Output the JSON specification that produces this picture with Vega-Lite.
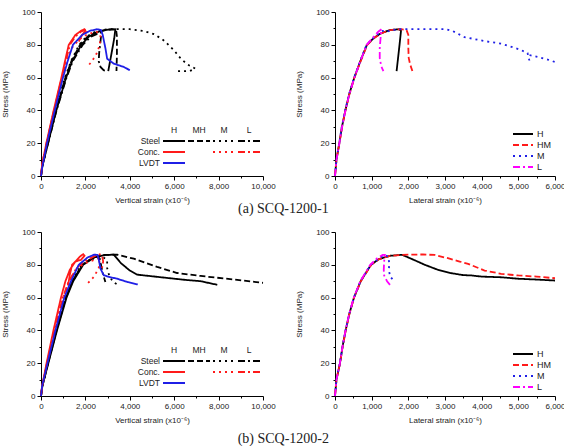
{
  "$schema": "https://vega.github.io/schema/vega-lite/v6.json",
  "padding": {"left": 1, "top": 8, "right": 0, "bottom": 0},
  "autosize": {"type": "pad"},
  "config": {
    "view": {"stroke": null},
    "font": "Liberation Sans",
    "axis": {
      "domainColor": "#000000", "tickColor": "#000000", "domainWidth": 1, "tickWidth": 1,
      "labelColor": "#222222", "titleColor": "#222222",
      "labelFont": "Liberation Sans", "titleFont": "Liberation Sans",
      "labelFontSize": 8, "titleFontSize": 8, "titleFontWeight": "normal",
      "grid": false, "labelPadding": 2, "labelOverlap": false, "labelFlush": false
    },
    "axisX": {"titlePadding": 6},
    "axisY": {"titlePadding": 12},
    "legend": {"labelFont": "Liberation Sans", "labelFontSize": 9, "labelColor": "#222222"},
    "title": {"font": "Liberation Serif", "fontSize": 14, "fontWeight": "normal", "color": "#222222"}
  },
  "datasets": {
    "keys": [
      {"m": "Steel", "l": "H"}, {"m": "Steel", "l": "MH"}, {"m": "Steel", "l": "M"}, {"m": "Steel", "l": "L"},
      {"m": "Conc.", "l": "H"}, {"m": "Conc.", "l": "M"}, {"m": "Conc.", "l": "L"},
      {"m": "LVDT", "l": "H"}
    ],
    "a_vertical": [
      {"m":"Steel","l":"H","x":0,"y":0},{"m":"Steel","l":"H","x":60,"y":6},{"m":"Steel","l":"H","x":315,"y":20},{"m":"Steel","l":"H","x":690,"y":40},{"m":"Steel","l":"H","x":1130,"y":60},{"m":"Steel","l":"H","x":1400,"y":70},{"m":"Steel","l":"H","x":1820,"y":80},{"m":"Steel","l":"H","x":2150,"y":85},{"m":"Steel","l":"H","x":2600,"y":88},{"m":"Steel","l":"H","x":3000,"y":89.2},{"m":"Steel","l":"H","x":3350,"y":89.5},{"m":"Steel","l":"H","x":3300,"y":84},{"m":"Steel","l":"H","x":3180,"y":75},{"m":"Steel","l":"H","x":3030,"y":64},
      {"m":"Steel","l":"MH","x":0,"y":0},{"m":"Steel","l":"MH","x":60,"y":6},{"m":"Steel","l":"MH","x":300,"y":20},{"m":"Steel","l":"MH","x":670,"y":40},{"m":"Steel","l":"MH","x":1100,"y":60},{"m":"Steel","l":"MH","x":1370,"y":70},{"m":"Steel","l":"MH","x":1760,"y":80},{"m":"Steel","l":"MH","x":2100,"y":85},{"m":"Steel","l":"MH","x":2550,"y":88},{"m":"Steel","l":"MH","x":3000,"y":89.3},{"m":"Steel","l":"MH","x":3380,"y":89.5},{"m":"Steel","l":"MH","x":3420,"y":85},{"m":"Steel","l":"MH","x":3420,"y":74},{"m":"Steel","l":"MH","x":3400,"y":64},
      {"m":"Steel","l":"M","x":0,"y":0},{"m":"Steel","l":"M","x":60,"y":6},{"m":"Steel","l":"M","x":290,"y":20},{"m":"Steel","l":"M","x":650,"y":40},{"m":"Steel","l":"M","x":1080,"y":60},{"m":"Steel","l":"M","x":1350,"y":70},{"m":"Steel","l":"M","x":1720,"y":80},{"m":"Steel","l":"M","x":2050,"y":85},{"m":"Steel","l":"M","x":2500,"y":88.5},{"m":"Steel","l":"M","x":3000,"y":89.5},{"m":"Steel","l":"M","x":3500,"y":89.6},{"m":"Steel","l":"M","x":4000,"y":89.5},{"m":"Steel","l":"M","x":4600,"y":88.5},{"m":"Steel","l":"M","x":5100,"y":86.5},{"m":"Steel","l":"M","x":5550,"y":82.5},{"m":"Steel","l":"M","x":6000,"y":76.5},{"m":"Steel","l":"M","x":6300,"y":71.5},{"m":"Steel","l":"M","x":6600,"y":68},{"m":"Steel","l":"M","x":6950,"y":65.5},{"m":"Steel","l":"M","x":6700,"y":64},{"m":"Steel","l":"M","x":6000,"y":64},
      {"m":"Steel","l":"L","x":0,"y":0},{"m":"Steel","l":"L","x":60,"y":6},{"m":"Steel","l":"L","x":320,"y":20},{"m":"Steel","l":"L","x":700,"y":40},{"m":"Steel","l":"L","x":1150,"y":60},{"m":"Steel","l":"L","x":1430,"y":70},{"m":"Steel","l":"L","x":1880,"y":80},{"m":"Steel","l":"L","x":2250,"y":85},{"m":"Steel","l":"L","x":2600,"y":87},{"m":"Steel","l":"L","x":2720,"y":87.5},{"m":"Steel","l":"L","x":2680,"y":82},{"m":"Steel","l":"L","x":2620,"y":75},{"m":"Steel","l":"L","x":2600,"y":70},{"m":"Steel","l":"L","x":2680,"y":66.5},{"m":"Steel","l":"L","x":2820,"y":64.5},{"m":"Steel","l":"L","x":2960,"y":64},
      {"m":"Conc.","l":"H","x":0,"y":0},{"m":"Conc.","l":"H","x":50,"y":7},{"m":"Conc.","l":"H","x":240,"y":20},{"m":"Conc.","l":"H","x":570,"y":40},{"m":"Conc.","l":"H","x":920,"y":60},{"m":"Conc.","l":"H","x":1080,"y":70},{"m":"Conc.","l":"H","x":1250,"y":80},{"m":"Conc.","l":"H","x":1550,"y":86},{"m":"Conc.","l":"H","x":1800,"y":88.5},{"m":"Conc.","l":"H","x":1950,"y":89.5},{"m":"Conc.","l":"H","x":2000,"y":88.5},{"m":"Conc.","l":"H","x":1850,"y":86},{"m":"Conc.","l":"H","x":1700,"y":82},
      {"m":"Conc.","l":"M","x":0,"y":0},{"m":"Conc.","l":"M","x":50,"y":7},{"m":"Conc.","l":"M","x":260,"y":20},{"m":"Conc.","l":"M","x":600,"y":40},{"m":"Conc.","l":"M","x":970,"y":60},{"m":"Conc.","l":"M","x":1170,"y":70},{"m":"Conc.","l":"M","x":1380,"y":78},{"m":"Conc.","l":"M","x":1700,"y":83},{"m":"Conc.","l":"M","x":2100,"y":86.5},{"m":"Conc.","l":"M","x":2500,"y":88},{"m":"Conc.","l":"M","x":2680,"y":86},{"m":"Conc.","l":"M","x":2650,"y":80},{"m":"Conc.","l":"M","x":2500,"y":74.5},{"m":"Conc.","l":"M","x":2300,"y":70},{"m":"Conc.","l":"M","x":2080,"y":66.5},
      {"m":"Conc.","l":"L","x":0,"y":0},{"m":"Conc.","l":"L","x":50,"y":7},{"m":"Conc.","l":"L","x":250,"y":20},{"m":"Conc.","l":"L","x":585,"y":40},{"m":"Conc.","l":"L","x":940,"y":60},{"m":"Conc.","l":"L","x":1120,"y":70},{"m":"Conc.","l":"L","x":1300,"y":80},{"m":"Conc.","l":"L","x":1550,"y":85},{"m":"Conc.","l":"L","x":1800,"y":88},{"m":"Conc.","l":"L","x":2050,"y":89.5},{"m":"Conc.","l":"L","x":2080,"y":88},{"m":"Conc.","l":"L","x":1950,"y":86},
      {"m":"LVDT","l":"H","x":0,"y":0},{"m":"LVDT","l":"H","x":50,"y":5},{"m":"LVDT","l":"H","x":270,"y":20},{"m":"LVDT","l":"H","x":620,"y":40},{"m":"LVDT","l":"H","x":990,"y":60},{"m":"LVDT","l":"H","x":1200,"y":70},{"m":"LVDT","l":"H","x":1440,"y":80},{"m":"LVDT","l":"H","x":1850,"y":86},{"m":"LVDT","l":"H","x":2200,"y":88.5},{"m":"LVDT","l":"H","x":2520,"y":89.5},{"m":"LVDT","l":"H","x":2700,"y":89},{"m":"LVDT","l":"H","x":2780,"y":86},{"m":"LVDT","l":"H","x":2900,"y":78},{"m":"LVDT","l":"H","x":2980,"y":71.5},{"m":"LVDT","l":"H","x":3280,"y":68.5},{"m":"LVDT","l":"H","x":3730,"y":66.5},{"m":"LVDT","l":"H","x":4000,"y":64.5}
    ],
    "b_vertical": [
      {"m":"Steel","l":"H","x":0,"y":0},{"m":"Steel","l":"H","x":60,"y":6},{"m":"Steel","l":"H","x":330,"y":20},{"m":"Steel","l":"H","x":720,"y":40},{"m":"Steel","l":"H","x":1150,"y":60},{"m":"Steel","l":"H","x":1450,"y":70},{"m":"Steel","l":"H","x":1900,"y":80},{"m":"Steel","l":"H","x":2400,"y":84.5},{"m":"Steel","l":"H","x":2900,"y":86},{"m":"Steel","l":"H","x":3280,"y":86.2},{"m":"Steel","l":"H","x":3600,"y":81},{"m":"Steel","l":"H","x":4000,"y":76.5},{"m":"Steel","l":"H","x":4330,"y":74},{"m":"Steel","l":"H","x":5000,"y":73},{"m":"Steel","l":"H","x":5680,"y":72},{"m":"Steel","l":"H","x":6500,"y":70.8},{"m":"Steel","l":"H","x":7190,"y":70},{"m":"Steel","l":"H","x":7940,"y":67.8},
      {"m":"Steel","l":"MH","x":0,"y":0},{"m":"Steel","l":"MH","x":60,"y":6},{"m":"Steel","l":"MH","x":320,"y":20},{"m":"Steel","l":"MH","x":700,"y":40},{"m":"Steel","l":"MH","x":1120,"y":60},{"m":"Steel","l":"MH","x":1420,"y":70},{"m":"Steel","l":"MH","x":1860,"y":80},{"m":"Steel","l":"MH","x":2350,"y":84.5},{"m":"Steel","l":"MH","x":2850,"y":86},{"m":"Steel","l":"MH","x":3430,"y":86.2},{"m":"Steel","l":"MH","x":4180,"y":83.7},{"m":"Steel","l":"MH","x":5230,"y":78.7},{"m":"Steel","l":"MH","x":6130,"y":75},{"m":"Steel","l":"MH","x":7190,"y":73.2},{"m":"Steel","l":"MH","x":8690,"y":71},{"m":"Steel","l":"MH","x":10000,"y":69},
      {"m":"Steel","l":"M","x":0,"y":0},{"m":"Steel","l":"M","x":60,"y":6},{"m":"Steel","l":"M","x":300,"y":20},{"m":"Steel","l":"M","x":680,"y":40},{"m":"Steel","l":"M","x":1100,"y":60},{"m":"Steel","l":"M","x":1400,"y":70},{"m":"Steel","l":"M","x":1820,"y":80},{"m":"Steel","l":"M","x":2300,"y":83.5},{"m":"Steel","l":"M","x":2750,"y":85},{"m":"Steel","l":"M","x":2980,"y":83},{"m":"Steel","l":"M","x":2980,"y":78},{"m":"Steel","l":"M","x":3080,"y":73},{"m":"Steel","l":"M","x":3250,"y":69.5},{"m":"Steel","l":"M","x":3500,"y":67.5},
      {"m":"Steel","l":"L","x":0,"y":0},{"m":"Steel","l":"L","x":60,"y":6},{"m":"Steel","l":"L","x":310,"y":20},{"m":"Steel","l":"L","x":690,"y":40},{"m":"Steel","l":"L","x":1120,"y":60},{"m":"Steel","l":"L","x":1420,"y":70},{"m":"Steel","l":"L","x":1850,"y":80},{"m":"Steel","l":"L","x":2300,"y":84},{"m":"Steel","l":"L","x":2620,"y":85.5},{"m":"Steel","l":"L","x":2700,"y":80},{"m":"Steel","l":"L","x":2800,"y":74},{"m":"Steel","l":"L","x":2900,"y":69.5},
      {"m":"Conc.","l":"H","x":0,"y":0},{"m":"Conc.","l":"H","x":50,"y":6},{"m":"Conc.","l":"H","x":250,"y":20},{"m":"Conc.","l":"H","x":560,"y":40},{"m":"Conc.","l":"H","x":900,"y":60},{"m":"Conc.","l":"H","x":1100,"y":70},{"m":"Conc.","l":"H","x":1300,"y":77},{"m":"Conc.","l":"H","x":1550,"y":82},{"m":"Conc.","l":"H","x":1750,"y":85},{"m":"Conc.","l":"H","x":1900,"y":86.5},{"m":"Conc.","l":"H","x":1960,"y":85.5},{"m":"Conc.","l":"H","x":1800,"y":83},{"m":"Conc.","l":"H","x":1550,"y":82},{"m":"Conc.","l":"H","x":1400,"y":80},{"m":"Conc.","l":"H","x":1300,"y":74},{"m":"Conc.","l":"H","x":1220,"y":67.5},
      {"m":"Conc.","l":"M","x":0,"y":0},{"m":"Conc.","l":"M","x":50,"y":6},{"m":"Conc.","l":"M","x":280,"y":20},{"m":"Conc.","l":"M","x":630,"y":40},{"m":"Conc.","l":"M","x":1000,"y":60},{"m":"Conc.","l":"M","x":1280,"y":70},{"m":"Conc.","l":"M","x":1620,"y":78},{"m":"Conc.","l":"M","x":2000,"y":81},{"m":"Conc.","l":"M","x":2400,"y":83},{"m":"Conc.","l":"M","x":2650,"y":84.5},{"m":"Conc.","l":"M","x":2600,"y":78},{"m":"Conc.","l":"M","x":2400,"y":73},{"m":"Conc.","l":"M","x":2200,"y":70},{"m":"Conc.","l":"M","x":2000,"y":67.5},
      {"m":"Conc.","l":"L","x":0,"y":0},{"m":"Conc.","l":"L","x":50,"y":6},{"m":"Conc.","l":"L","x":270,"y":20},{"m":"Conc.","l":"L","x":610,"y":40},{"m":"Conc.","l":"L","x":980,"y":60},{"m":"Conc.","l":"L","x":1250,"y":70},{"m":"Conc.","l":"L","x":1600,"y":78},{"m":"Conc.","l":"L","x":1950,"y":82},{"m":"Conc.","l":"L","x":2300,"y":84.5},{"m":"Conc.","l":"L","x":2600,"y":86.5},{"m":"Conc.","l":"L","x":2750,"y":86},{"m":"Conc.","l":"L","x":2800,"y":82},{"m":"Conc.","l":"L","x":2750,"y":78},
      {"m":"LVDT","l":"H","x":0,"y":0},{"m":"LVDT","l":"H","x":50,"y":6},{"m":"LVDT","l":"H","x":290,"y":20},{"m":"LVDT","l":"H","x":650,"y":40},{"m":"LVDT","l":"H","x":1050,"y":60},{"m":"LVDT","l":"H","x":1350,"y":70},{"m":"LVDT","l":"H","x":1700,"y":80},{"m":"LVDT","l":"H","x":2100,"y":84.5},{"m":"LVDT","l":"H","x":2400,"y":86.2},{"m":"LVDT","l":"H","x":2550,"y":86},{"m":"LVDT","l":"H","x":2620,"y":82},{"m":"LVDT","l":"H","x":2680,"y":77.6},{"m":"LVDT","l":"H","x":2830,"y":73.6},{"m":"LVDT","l":"H","x":3100,"y":72.5},{"m":"LVDT","l":"H","x":3430,"y":71.5},{"m":"LVDT","l":"H","x":3900,"y":69.5},{"m":"LVDT","l":"H","x":4360,"y":68}
    ],
    "a_lateral": [
      {"s":"H","x":0,"y":0},{"s":"H","x":40,"y":10},{"s":"H","x":118,"y":20},{"s":"H","x":190,"y":30},{"s":"H","x":282,"y":40},{"s":"H","x":390,"y":50},{"s":"H","x":527,"y":60},{"s":"H","x":690,"y":70},{"s":"H","x":870,"y":80},{"s":"H","x":1050,"y":84},{"s":"H","x":1250,"y":87},{"s":"H","x":1500,"y":89},{"s":"H","x":1750,"y":89.5},{"s":"H","x":1800,"y":88.5},{"s":"H","x":1760,"y":80},{"s":"H","x":1720,"y":72},{"s":"H","x":1680,"y":64},
      {"s":"HM","x":0,"y":0},{"s":"HM","x":40,"y":10},{"s":"HM","x":120,"y":20},{"s":"HM","x":195,"y":30},{"s":"HM","x":285,"y":40},{"s":"HM","x":395,"y":50},{"s":"HM","x":530,"y":60},{"s":"HM","x":700,"y":70},{"s":"HM","x":880,"y":80},{"s":"HM","x":1060,"y":84},{"s":"HM","x":1260,"y":87},{"s":"HM","x":1500,"y":89},{"s":"HM","x":1800,"y":89.5},{"s":"HM","x":1950,"y":89},{"s":"HM","x":2000,"y":86},{"s":"HM","x":2000,"y":78},{"s":"HM","x":2010,"y":72},{"s":"HM","x":2050,"y":68},{"s":"HM","x":2110,"y":64},
      {"s":"M","x":0,"y":0},{"s":"M","x":40,"y":10},{"s":"M","x":115,"y":20},{"s":"M","x":185,"y":30},{"s":"M","x":278,"y":40},{"s":"M","x":385,"y":50},{"s":"M","x":520,"y":60},{"s":"M","x":685,"y":70},{"s":"M","x":860,"y":80},{"s":"M","x":1040,"y":84},{"s":"M","x":1200,"y":87},{"s":"M","x":1300,"y":88.5},{"s":"M","x":1400,"y":88},{"s":"M","x":1500,"y":88.6},{"s":"M","x":1700,"y":89.5},{"s":"M","x":2000,"y":89.6},{"s":"M","x":2500,"y":89.6},{"s":"M","x":3000,"y":89.6},{"s":"M","x":3200,"y":88.5},{"s":"M","x":3530,"y":84.7},{"s":"M","x":4070,"y":82.3},{"s":"M","x":4530,"y":80.7},{"s":"M","x":5030,"y":77.2},{"s":"M","x":5250,"y":75},{"s":"M","x":5300,"y":70.5},{"s":"M","x":5330,"y":73.6},{"s":"M","x":5530,"y":72.6},{"s":"M","x":5800,"y":71},{"s":"M","x":6000,"y":69.5},
      {"s":"L","x":0,"y":0},{"s":"L","x":40,"y":10},{"s":"L","x":120,"y":20},{"s":"L","x":192,"y":30},{"s":"L","x":285,"y":40},{"s":"L","x":392,"y":50},{"s":"L","x":528,"y":60},{"s":"L","x":690,"y":70},{"s":"L","x":865,"y":80},{"s":"L","x":1040,"y":84.5},{"s":"L","x":1180,"y":88},{"s":"L","x":1270,"y":89.5},{"s":"L","x":1250,"y":86},{"s":"L","x":1220,"y":78},{"s":"L","x":1220,"y":72},{"s":"L","x":1260,"y":67},{"s":"L","x":1320,"y":64}
    ],
    "b_lateral": [
      {"s":"H","x":0,"y":0},{"s":"H","x":40,"y":10},{"s":"H","x":136,"y":20},{"s":"H","x":205,"y":30},{"s":"H","x":290,"y":40},{"s":"H","x":390,"y":50},{"s":"H","x":517,"y":60},{"s":"H","x":700,"y":70},{"s":"H","x":980,"y":80},{"s":"H","x":1200,"y":83.5},{"s":"H","x":1500,"y":85.5},{"s":"H","x":1830,"y":86.1},{"s":"H","x":2100,"y":83.5},{"s":"H","x":2450,"y":80},{"s":"H","x":2800,"y":77},{"s":"H","x":3170,"y":74.9},{"s":"H","x":3500,"y":73.7},{"s":"H","x":3720,"y":73.5},{"s":"H","x":4000,"y":72.8},{"s":"H","x":4530,"y":72.4},{"s":"H","x":5000,"y":71.5},{"s":"H","x":5500,"y":71},{"s":"H","x":6000,"y":70.4},
      {"s":"HM","x":0,"y":0},{"s":"HM","x":40,"y":10},{"s":"HM","x":138,"y":20},{"s":"HM","x":208,"y":30},{"s":"HM","x":293,"y":40},{"s":"HM","x":393,"y":50},{"s":"HM","x":520,"y":60},{"s":"HM","x":705,"y":70},{"s":"HM","x":990,"y":80},{"s":"HM","x":1210,"y":83.5},{"s":"HM","x":1500,"y":85.5},{"s":"HM","x":1800,"y":86},{"s":"HM","x":2000,"y":86.2},{"s":"HM","x":2400,"y":86.3},{"s":"HM","x":2720,"y":86},{"s":"HM","x":3080,"y":84},{"s":"HM","x":3400,"y":82},{"s":"HM","x":3630,"y":80.6},{"s":"HM","x":4080,"y":76.5},{"s":"HM","x":4530,"y":74.5},{"s":"HM","x":5000,"y":73.5},{"s":"HM","x":5500,"y":72.8},{"s":"HM","x":6000,"y":71.8},
      {"s":"M","x":0,"y":0},{"s":"M","x":40,"y":10},{"s":"M","x":134,"y":20},{"s":"M","x":203,"y":30},{"s":"M","x":288,"y":40},{"s":"M","x":388,"y":50},{"s":"M","x":515,"y":60},{"s":"M","x":695,"y":70},{"s":"M","x":975,"y":80},{"s":"M","x":1200,"y":84},{"s":"M","x":1350,"y":86},{"s":"M","x":1450,"y":85},{"s":"M","x":1480,"y":81},{"s":"M","x":1470,"y":77},{"s":"M","x":1500,"y":73},{"s":"M","x":1630,"y":69.5},
      {"s":"L","x":0,"y":0},{"s":"L","x":40,"y":10},{"s":"L","x":134,"y":20},{"s":"L","x":203,"y":30},{"s":"L","x":287,"y":40},{"s":"L","x":386,"y":50},{"s":"L","x":512,"y":60},{"s":"L","x":690,"y":70},{"s":"L","x":960,"y":80},{"s":"L","x":1150,"y":84},{"s":"L","x":1300,"y":86},{"s":"L","x":1360,"y":86},{"s":"L","x":1340,"y":82},{"s":"L","x":1330,"y":77},{"s":"L","x":1340,"y":73.5},{"s":"L","x":1420,"y":70},{"s":"L","x":1500,"y":67.8}
    ]
  },
  "spacing": 12,
  "resolve": {"scale": {"color": "independent", "strokeDash": "independent"}},
  "vconcat": [
    {
      "title": {"text": "(a) SCQ-1200-1", "orient": "bottom", "anchor": "middle", "frame": "bounds", "offset": -2},
      "spacing": 19,
      "resolve": {"scale": {"color": "independent", "strokeDash": "independent"}},
      "hconcat": [
        {
          "width": 222, "height": 164,
          "resolve": {"scale": {"x": "independent", "y": "independent"}},
          "layer": [
            {
              "data": {"name": "a_vertical"},
              "mark": {"type": "line", "strokeWidth": 1.8},
              "encoding": {
                "x": {"field": "x", "type": "quantitative", "scale": {"domain": [0, 10000], "nice": false},
                  "axis": {"title": "Vertical strain (x10⁻⁶)", "values": [0,1000,2000,3000,4000,5000,6000,7000,8000,9000,10000], "format": ",d",
                    "labelExpr": "datum.value % 2000 === 0 ? datum.label : ''",
                    "tickSize": {"condition": {"test": "datum.value % 2000 === 0", "value": 4}, "value": 2}}},
                "y": {"field": "y", "type": "quantitative", "scale": {"domain": [0, 100], "nice": false},
                  "axis": {"title": "Stress (MPa)", "values": [0,10,20,30,40,50,60,70,80,90,100],
                    "labelExpr": "datum.value % 20 === 0 ? datum.label : ''",
                    "tickSize": {"condition": {"test": "datum.value % 20 === 0", "value": 4}, "value": 2}}},
                "color": {"field": "m", "type": "nominal", "scale": {"domain": ["Steel", "Conc.", "LVDT"], "range": ["#000000", "#ff1a1a", "#1f1fe6"]}, "legend": null},
                "strokeDash": {"field": "l", "type": "nominal", "scale": {"domain": ["H", "MH", "M", "L"], "range": [[1, 0], [6, 3], [2, 4], [7, 3, 2, 3]]}, "legend": null},
                "order": {"value": null}
              }
            },
            {
              "data": {"name": "keys"},
              "encoding": {
                "x": {"field": "l", "type": "nominal", "scale": {"type": "point", "domain": ["H", "MH", "M", "L"], "range": [133, 208], "padding": 0}, "axis": null},
                "y": {"field": "m", "type": "nominal", "scale": {"type": "point", "domain": ["Steel", "Conc.", "LVDT"], "range": [129, 151], "padding": 0}, "axis": null}
              },
              "layer": [
                {
                  "mark": {"type": "point", "shape": "stroke", "size": 484, "strokeWidth": 1.8, "filled": false, "opacity": 1},
                  "encoding": {
                    "color": {"field": "m", "type": "nominal", "legend": null},
                    "strokeDash": {"field": "l", "type": "nominal", "legend": null}
                  }
                },
                {
                  "transform": [{"filter": "datum.m === 'Steel'"}],
                  "mark": {"type": "text", "dy": -11, "fontSize": 8.5, "fill": "#222222"},
                  "encoding": {"text": {"field": "l"}, "y": {"datum": "Steel"}}
                },
                {
                  "transform": [{"filter": "datum.l === 'H'"}],
                  "mark": {"type": "text", "align": "right", "dx": -14, "fontSize": 8.5, "fill": "#222222"},
                  "encoding": {"text": {"field": "m"}, "x": {"datum": "H"}}
                }
              ]
            }
          ]
        },
        {
          "width": 220, "height": 164,
          "data": {"name": "a_lateral"},
          "mark": {"type": "line", "strokeWidth": 1.8},
          "encoding": {
            "x": {"field": "x", "type": "quantitative", "scale": {"domain": [0, 6000], "nice": false},
              "axis": {"title": "Lateral strain (x10⁻⁶)", "values": [0,500,1000,1500,2000,2500,3000,3500,4000,4500,5000,5500,6000], "format": ",d",
                "labelExpr": "datum.value % 1000 === 0 ? datum.label : ''",
                "tickSize": {"condition": {"test": "datum.value % 1000 === 0", "value": 4}, "value": 2}}},
            "y": {"field": "y", "type": "quantitative", "scale": {"domain": [0, 100], "nice": false},
              "axis": {"title": "Stress (MPa)", "values": [0,10,20,30,40,50,60,70,80,90,100],
                "labelExpr": "datum.value % 20 === 0 ? datum.label : ''",
                "tickSize": {"condition": {"test": "datum.value % 20 === 0", "value": 4}, "value": 2}}},
            "color": {"field": "s", "type": "nominal", "scale": {"domain": ["H", "HM", "M", "L"], "range": ["#000000", "#ff1a1a", "#1f1fe6", "#ff00ff"]},
              "legend": {"orient": "bottom-right", "title": null, "symbolType": "M-2.5,0H2.5", "symbolSize": 64, "symbolStrokeWidth": 1.8, "labelOffset": 9, "rowPadding": 1, "offset": 4, "padding": 0}},
            "strokeDash": {"field": "s", "type": "nominal", "scale": {"domain": ["H", "HM", "M", "L"], "range": [[1, 0], [6, 3], [2, 4], [7, 3, 2, 3]]},
              "legend": {"orient": "bottom-right", "title": null, "symbolType": "M-2.5,0H2.5", "symbolSize": 64, "symbolStrokeWidth": 1.8, "labelOffset": 9, "rowPadding": 1, "offset": 4, "padding": 0}},
            "order": {"value": null}
          }
        }
      ]
    },
    {
      "title": {"text": "(b) SCQ-1200-2", "orient": "bottom", "anchor": "middle", "frame": "bounds", "offset": 8},
      "spacing": 19,
      "resolve": {"scale": {"color": "independent", "strokeDash": "independent"}},
      "hconcat": [
        {
          "width": 222, "height": 164,
          "resolve": {"scale": {"x": "independent", "y": "independent"}},
          "layer": [
            {
              "data": {"name": "b_vertical"},
              "mark": {"type": "line", "strokeWidth": 1.8},
              "encoding": {
                "x": {"field": "x", "type": "quantitative", "scale": {"domain": [0, 10000], "nice": false},
                  "axis": {"title": "Vertical strain (x10⁻⁶)", "values": [0,1000,2000,3000,4000,5000,6000,7000,8000,9000,10000], "format": ",d",
                    "labelExpr": "datum.value % 2000 === 0 ? datum.label : ''",
                    "tickSize": {"condition": {"test": "datum.value % 2000 === 0", "value": 4}, "value": 2}}},
                "y": {"field": "y", "type": "quantitative", "scale": {"domain": [0, 100], "nice": false},
                  "axis": {"title": "Stress (MPa)", "values": [0,10,20,30,40,50,60,70,80,90,100],
                    "labelExpr": "datum.value % 20 === 0 ? datum.label : ''",
                    "tickSize": {"condition": {"test": "datum.value % 20 === 0", "value": 4}, "value": 2}}},
                "color": {"field": "m", "type": "nominal", "scale": {"domain": ["Steel", "Conc.", "LVDT"], "range": ["#000000", "#ff1a1a", "#1f1fe6"]}, "legend": null},
                "strokeDash": {"field": "l", "type": "nominal", "scale": {"domain": ["H", "MH", "M", "L"], "range": [[1, 0], [6, 3], [2, 4], [7, 3, 2, 3]]}, "legend": null},
                "order": {"value": null}
              }
            },
            {
              "data": {"name": "keys"},
              "encoding": {
                "x": {"field": "l", "type": "nominal", "scale": {"type": "point", "domain": ["H", "MH", "M", "L"], "range": [133, 208], "padding": 0}, "axis": null},
                "y": {"field": "m", "type": "nominal", "scale": {"type": "point", "domain": ["Steel", "Conc.", "LVDT"], "range": [129, 151], "padding": 0}, "axis": null}
              },
              "layer": [
                {
                  "mark": {"type": "point", "shape": "stroke", "size": 484, "strokeWidth": 1.8, "filled": false, "opacity": 1},
                  "encoding": {
                    "color": {"field": "m", "type": "nominal", "legend": null},
                    "strokeDash": {"field": "l", "type": "nominal", "legend": null}
                  }
                },
                {
                  "transform": [{"filter": "datum.m === 'Steel'"}],
                  "mark": {"type": "text", "dy": -11, "fontSize": 8.5, "fill": "#222222"},
                  "encoding": {"text": {"field": "l"}, "y": {"datum": "Steel"}}
                },
                {
                  "transform": [{"filter": "datum.l === 'H'"}],
                  "mark": {"type": "text", "align": "right", "dx": -14, "fontSize": 8.5, "fill": "#222222"},
                  "encoding": {"text": {"field": "m"}, "x": {"datum": "H"}}
                }
              ]
            }
          ]
        },
        {
          "width": 220, "height": 164,
          "data": {"name": "b_lateral"},
          "mark": {"type": "line", "strokeWidth": 1.8},
          "encoding": {
            "x": {"field": "x", "type": "quantitative", "scale": {"domain": [0, 6000], "nice": false},
              "axis": {"title": "Lateral strain (x10⁻⁶)", "values": [0,500,1000,1500,2000,2500,3000,3500,4000,4500,5000,5500,6000], "format": ",d",
                "labelExpr": "datum.value % 1000 === 0 ? datum.label : ''",
                "tickSize": {"condition": {"test": "datum.value % 1000 === 0", "value": 4}, "value": 2}}},
            "y": {"field": "y", "type": "quantitative", "scale": {"domain": [0, 100], "nice": false},
              "axis": {"title": "Stress (MPa)", "values": [0,10,20,30,40,50,60,70,80,90,100],
                "labelExpr": "datum.value % 20 === 0 ? datum.label : ''",
                "tickSize": {"condition": {"test": "datum.value % 20 === 0", "value": 4}, "value": 2}}},
            "color": {"field": "s", "type": "nominal", "scale": {"domain": ["H", "HM", "M", "L"], "range": ["#000000", "#ff1a1a", "#1f1fe6", "#ff00ff"]},
              "legend": {"orient": "bottom-right", "title": null, "symbolType": "M-2.5,0H2.5", "symbolSize": 64, "symbolStrokeWidth": 1.8, "labelOffset": 9, "rowPadding": 1, "offset": 4, "padding": 0}},
            "strokeDash": {"field": "s", "type": "nominal", "scale": {"domain": ["H", "HM", "M", "L"], "range": [[1, 0], [6, 3], [2, 4], [7, 3, 2, 3]]},
              "legend": {"orient": "bottom-right", "title": null, "symbolType": "M-2.5,0H2.5", "symbolSize": 64, "symbolStrokeWidth": 1.8, "labelOffset": 9, "rowPadding": 1, "offset": 4, "padding": 0}},
            "order": {"value": null}
          }
        }
      ]
    }
  ]
}
